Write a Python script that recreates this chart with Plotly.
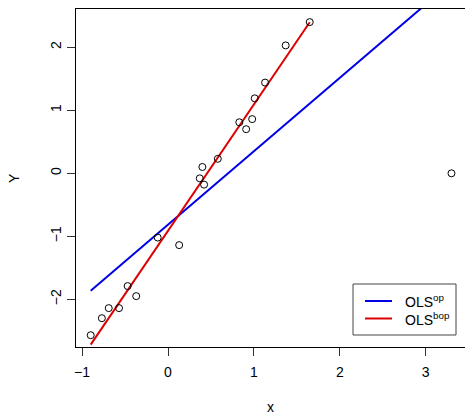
import plotly.graph_objects as go

# ---- data ----
x_vals = [-0.90, -0.77, -0.69, -0.57, -0.47, -0.37, -0.12, 0.13, 0.37, 0.40, 0.42,
          0.58, 0.83, 0.91, 0.98, 1.01, 1.13, 1.37, 1.65, 3.30]
y_vals = [-2.57, -2.30, -2.14, -2.14, -1.79, -1.95, -1.02, -1.14, -0.08, 0.10, -0.18,
          0.23, 0.81, 0.70, 0.86, 1.19, 1.44, 2.03, 2.40, 0.00]
outlier_index = [19]

ols_op = {"intercept": -0.814, "slope": 1.165}
ols_bop = {"intercept": -0.914, "slope": 2.007}
legend_labels = ["OLS<sup>op</sup>", "OLS<sup>bop</sup>"]
line_colors = ["#0000E6", "#DD0000"]

x_ticks = [-1, 0, 1, 2, 3]
y_ticks = [-2, -1, 0, 1, 2]

# ---- geometry ----
W, H = 465, 414
L, R, T, B = 76, 465, 9, 347
x0px, xscale = 168.0, 85.9
y0px, yscale = 173.3, 63.0
x_range = [(L - x0px) / xscale, (R - x0px) / xscale]
y_range = [(y0px - B) / yscale, (y0px - T) / yscale]

def px(xp):
    return (xp - L) / (R - L)

def py(yp):
    return (B - yp) / (B - T)

clean_x = [v for i, v in enumerate(x_vals) if i not in outlier_index]

fig = go.Figure()

# OLS with outlier: across full x range
xa = [min(x_vals), max(x_vals)]
fig.add_trace(go.Scatter(x=xa, y=[ols_op["intercept"] + ols_op["slope"] * v for v in xa],
                         mode="lines", line=dict(color=line_colors[0], width=2),
                         showlegend=False, hoverinfo="skip"))
# OLS without outlier
xb = [min(clean_x), max(clean_x)]
fig.add_trace(go.Scatter(x=xb, y=[ols_bop["intercept"] + ols_bop["slope"] * v for v in xb],
                         mode="lines", line=dict(color=line_colors[1], width=2),
                         showlegend=False, hoverinfo="skip"))
# points
fig.add_trace(go.Scatter(x=x_vals, y=y_vals, mode="markers",
                         marker=dict(symbol="circle-open", size=7, color="black",
                                     line=dict(width=1, color="black")),
                         showlegend=False))

font = dict(family="Liberation Sans, Arial, sans-serif", size=14, color="black")

fig.update_layout(
    width=W, height=H,
    margin=dict(l=L, r=W - R, t=T, b=H - B, pad=0),
    paper_bgcolor="white", plot_bgcolor="white",
    font=font,
    showlegend=False,
    xaxis=dict(range=x_range, tickvals=x_ticks, ticktext=[str(t).replace("-", "\u2212") for t in x_ticks],
               ticks="outside", ticklen=8, tickwidth=1, tickcolor="#333",
               showline=True, linecolor="black", linewidth=1, mirror=True,
               showgrid=False, zeroline=False, tickfont=font, ticklabelstandoff=4),
    yaxis=dict(range=y_range, tickvals=y_ticks, ticktext=[str(t).replace("-", "\u2212") for t in y_ticks],
               ticks="outside", ticklen=8, tickwidth=1, tickcolor="#333",
               showline=True, linecolor="black", linewidth=1, mirror=False,
               showgrid=False, zeroline=False, tickangle=-90, tickfont=font,
               ticklabelstandoff=0),
)

# axis titles
fig.add_annotation(text="x", x=px(270), y=py(407), xref="paper", yref="paper",
                   showarrow=False, font=font, xanchor="center", yanchor="middle")
fig.add_annotation(text="Y", x=px(14), y=py(178), xref="paper", yref="paper",
                   showarrow=False, font=font, textangle=-90, xanchor="center", yanchor="middle")

# legend box
fig.add_shape(type="rect", xref="paper", yref="paper",
              x0=px(353), x1=px(456), y0=py(335), y1=py(284),
              line=dict(color="#444", width=1), fillcolor="white", layer="above")
for i, (lab, col) in enumerate(zip(legend_labels, line_colors)):
    ly = 301 + 17.5 * i
    fig.add_shape(type="line", xref="paper", yref="paper",
                  x0=px(365), x1=px(392), y0=py(ly), y1=py(ly),
                  line=dict(color=col, width=2), layer="above")
    fig.add_annotation(text=lab, x=px(403), y=py(ly), xref="paper", yref="paper",
                       showarrow=False, font=font, xanchor="left", yanchor="middle")

fig.write_html("out.html", config={"displayModeBar": False},
               post_script="document.body.style.margin='0';document.body.style.padding='0';")
